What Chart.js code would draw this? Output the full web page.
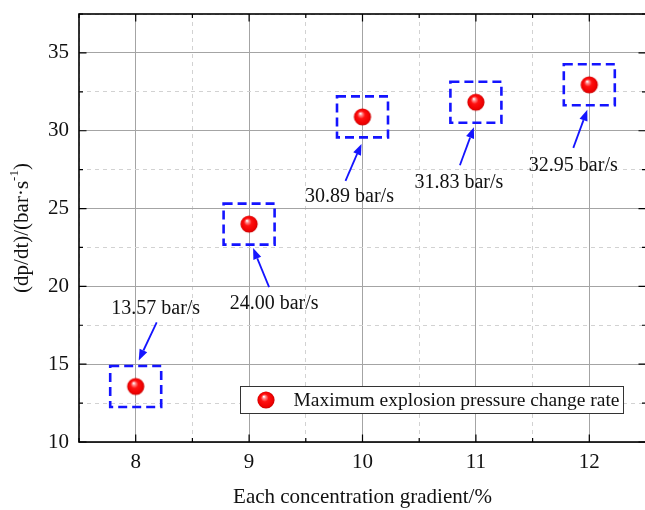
<!DOCTYPE html>
<html>
<head>
<meta charset="utf-8">
<script src="https://cdn.jsdelivr.net/npm/chart.js@4.4.1/dist/chart.umd.min.js"></script>
<style>
  html, body { margin: 0; padding: 0; background: #fff; overflow: hidden; }
  #wrap { width: 650px; height: 510px; }
</style>
</head>
<body>
<div id="wrap"><canvas id="c" width="650" height="510"></canvas></div>
<script>
// ---- data ----
const concentrations = [8, 9, 10, 11, 12];
const maxRates = [13.57, 24.00, 30.89, 31.83, 32.95];
const xTickLabels = [8, 9, 10, 11, 12];
const yTickLabels = [10, 15, 20, 25, 30, 35];
const seriesLabel = 'Maximum explosion pressure change rate';
const xTitle = 'Each concentration gradient/%';
const yTitleParts = ['(dp/dt)/(bar\u00B7s', '-1', ')'];
const unitSuffix = ' bar/s';

// ---- layout of the callouts (px, relative to each marker): text centre, arrow tail, arrow tip ----
const calloutLayout = [
  { text: [20, -78], tail: [21, -64], tip: [3, -26] },
  { text: [25, 80],  tail: [20, 63],  tip: [4, 24] },
  { text: [-13, 80], tail: [-17, 64], tip: [-1, 27] },
  { text: [-17, 81], tail: [-16, 63], tip: [-2, 25] },
  { text: [-16, 81], tail: [-16, 63], tip: [-2, 25] }
];

const SERIF = '"Liberation Serif", "Times New Roman", serif';
const TEXT = '#111';
const BLUE = '#1414ff';
const MARKER_R = 8.6;

// shaded red ball used as the point marker
function makeSphere(r) {
  const s = Math.ceil(r * 2) + 2;
  const c = document.createElement('canvas');
  c.width = s; c.height = s;
  const g = c.getContext('2d');
  const cx = s / 2, cy = s / 2;
  const grad = g.createRadialGradient(cx - r * 0.25, cy - r * 0.4, r * 0.04, cx, cy, r);
  grad.addColorStop(0, '#ffffff');
  grad.addColorStop(0.16, '#ff8a8a');
  grad.addColorStop(0.42, '#ff1010');
  grad.addColorStop(0.85, '#ee0000');
  grad.addColorStop(1, '#c40000');
  g.fillStyle = grad;
  g.beginPath(); g.arc(cx, cy, r, 0, Math.PI * 2); g.fill();
  return c;
}
const sphere = makeSphere(MARKER_R);

const isMajorX = v => xTickLabels.includes(v);
const isMajorY = v => yTickLabels.includes(v);

// frame with inward tick marks on all four sides
const framePlugin = {
  id: 'frame',
  afterDatasetsDraw(chart) {
    const { ctx, chartArea: a, scales: { x, y } } = chart;
    ctx.save();
    ctx.strokeStyle = '#000';
    ctx.lineWidth = 1.2;
    x.ticks.forEach(t => {
      const px = x.getPixelForValue(t.value);
      const len = isMajorX(t.value) ? 7.5 : 4;
      ctx.beginPath();
      ctx.moveTo(px, a.bottom); ctx.lineTo(px, a.bottom - len);
      ctx.moveTo(px, a.top); ctx.lineTo(px, a.top + len);
      ctx.stroke();
    });
    y.ticks.forEach(t => {
      const py = y.getPixelForValue(t.value);
      const len = isMajorY(t.value) ? 7.5 : 4;
      ctx.beginPath();
      ctx.moveTo(a.left, py); ctx.lineTo(a.left + len, py);
      ctx.moveTo(a.right, py); ctx.lineTo(a.right - len, py);
      ctx.stroke();
    });
    ctx.lineWidth = 1.6;
    ctx.strokeRect(a.left, a.top, a.right - a.left, a.bottom - a.top);
    ctx.restore();
  }
};

// dashed boxes, arrows and value labels
const calloutPlugin = {
  id: 'callouts',
  afterDatasetsDraw(chart) {
    const { ctx } = chart;
    const meta = chart.getDatasetMeta(0);
    const ys = chart.data.datasets[0].data;
    ctx.save();
    meta.data.forEach((pt, i) => {
      const px = pt.x, py = pt.y;
      const L = calloutLayout[i];
      // dashed box
      ctx.setLineDash([9, 5]);
      ctx.lineWidth = 2.6;
      ctx.strokeStyle = BLUE;
      ctx.strokeRect(px - 25.5, py - 20.5, 51, 41);
      ctx.setLineDash([]);
      // arrow
      const tx = px + L.tail[0], ty = py + L.tail[1];
      const hx = px + L.tip[0], hy = py + L.tip[1];
      const ang = Math.atan2(hy - ty, hx - tx);
      const headLen = 11, headW = 4.2;
      const bx = hx - headLen * Math.cos(ang), by = hy - headLen * Math.sin(ang);
      ctx.lineWidth = 1.8;
      ctx.beginPath(); ctx.moveTo(tx, ty); ctx.lineTo(bx, by); ctx.stroke();
      ctx.fillStyle = BLUE;
      ctx.beginPath();
      ctx.moveTo(hx, hy);
      ctx.lineTo(bx + headW * Math.sin(ang), by - headW * Math.cos(ang));
      ctx.lineTo(bx - headW * Math.sin(ang), by + headW * Math.cos(ang));
      ctx.closePath(); ctx.fill();
      // value label
      ctx.fillStyle = TEXT;
      ctx.font = '20px ' + SERIF;
      ctx.textAlign = 'center';
      ctx.textBaseline = 'middle';
      ctx.fillText(ys[i].y.toFixed(2) + unitSuffix, px + L.text[0], py + L.text[1]);
    });
    ctx.restore();
  }
};

// legend box inside the plot and the rotated y title with superscript
const extrasPlugin = {
  id: 'extras',
  afterDraw(chart) {
    const { ctx, chartArea: a } = chart;
    ctx.save();
    // legend
    ctx.font = '19.5px ' + SERIF;
    const label = chart.data.datasets[0].label;
    const tw = ctx.measureText(label).width;
    const lx = Math.round(a.left + 161) + 0.5, ly = Math.round(a.bottom - 56) + 0.5;
    const w = Math.round(53 + tw + 4), h = 27;
    ctx.fillStyle = '#fff';
    ctx.fillRect(lx, ly, w, h);
    ctx.strokeStyle = '#333';
    ctx.lineWidth = 1;
    ctx.strokeRect(lx, ly, w, h);
    ctx.drawImage(sphere, lx + 25.5 - sphere.width / 2, ly + h / 2 - sphere.height / 2);
    ctx.fillStyle = TEXT;
    ctx.textAlign = 'left';
    ctx.textBaseline = 'middle';
    ctx.fillText(label, lx + 53, ly + h / 2 + 0.5);

    // y title
    const cy = (a.top + a.bottom) / 2;
    ctx.translate(22, cy);
    ctx.rotate(-Math.PI / 2);
    const big = '21px ' + SERIF, small = '13px ' + SERIF;
    ctx.font = big; const w0 = ctx.measureText(yTitleParts[0]).width;
    ctx.font = small; const w1 = ctx.measureText(yTitleParts[1]).width;
    ctx.font = big; const w2 = ctx.measureText(yTitleParts[2]).width;
    let sx = -(w0 + w1 + w2) / 2;
    ctx.textAlign = 'left';
    ctx.textBaseline = 'middle';
    ctx.font = big; ctx.fillText(yTitleParts[0], sx, 0); sx += w0;
    ctx.font = small; ctx.fillText(yTitleParts[1], sx, -7); sx += w1;
    ctx.font = big; ctx.fillText(yTitleParts[2], sx, 0);
    ctx.restore();
  }
};

new Chart(document.getElementById('c'), {
  type: 'scatter',
  data: {
    datasets: [{
      label: seriesLabel,
      data: concentrations.map((c, i) => ({ x: c, y: maxRates[i] })),
      pointStyle: sphere,
      pointRadius: MARKER_R,
      pointHoverRadius: MARKER_R
    }]
  },
  options: {
    responsive: false,
    animation: false,
    events: [],
    layout: { autoPadding: false, padding: { top: 14, right: 4, left: 0, bottom: 0 } },
    plugins: { legend: { display: false }, tooltip: { enabled: false } },
    scales: {
      x: {
        type: 'linear', min: 7.5, max: 12.5,
        afterFit(s) { s.height = 68; s.paddingLeft = 0; s.paddingRight = 0; },
        ticks: {
          stepSize: 0.5, autoSkip: false, maxRotation: 0, padding: 8,
          color: TEXT, font: { family: SERIF, size: 21 },
          callback: v => isMajorX(v) ? String(v) : ''
        },
        grid: {
          drawTicks: false,
          lineWidth: 1,
          color: c => isMajorX(c.tick.value) ? '#a4a4a4' : '#d2d2d2'
        },
        border: { display: false, dash: c => isMajorX(c.tick.value) ? [] : [4, 4] },
        title: {
          display: true, text: xTitle, color: TEXT,
          font: { family: SERIF, size: 21 }, padding: { top: 0, bottom: 0 }
        }
      },
      y: {
        type: 'linear', min: 10, max: 37.5,
        afterFit(s) { s.width = 79; s.paddingTop = 0; s.paddingBottom = 0; },
        ticks: {
          stepSize: 2.5, autoSkip: false, padding: 10,
          color: TEXT, font: { family: SERIF, size: 21 },
          callback: v => isMajorY(v) ? String(v) : ''
        },
        grid: {
          drawTicks: false,
          lineWidth: 1,
          color: c => isMajorY(c.tick.value) ? '#a4a4a4' : '#d2d2d2'
        },
        border: { display: false, dash: c => isMajorY(c.tick.value) ? [] : [4, 4] }
      }
    }
  },
  plugins: [framePlugin, calloutPlugin, extrasPlugin]
});
</script>
</body>
</html>
